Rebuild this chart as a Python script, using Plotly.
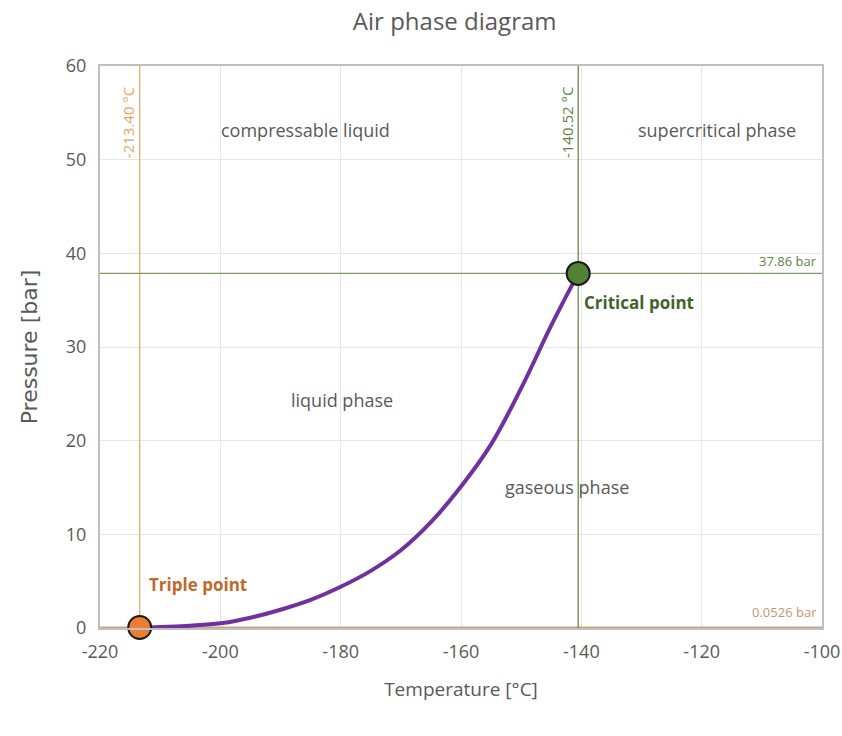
import plotly.graph_objects as go

temps = [-213.4, -210, -205, -200, -195, -190, -185, -180, -175, -170, -165, -160, -155, -150, -145, -140.52]
press = [0.0526, 0.1, 0.25, 0.5, 1.1, 1.95, 3.0, 4.4, 6.1, 8.3, 11.3, 15.1, 19.6, 25.6, 32.3, 37.86]

triple_t, triple_p = -213.4, 0.0526
crit_t, crit_p = -140.52, 37.86

x_ticks = [-220, -200, -180, -160, -140, -120, -100]
y_ticks = [0, 10, 20, 30, 40, 50, 60]

region_labels = ["compressable liquid", "supercritical phase", "liquid phase", "gaseous phase"]
region_x = [-185.9, -117.5, -179.8, -142.4]
region_y = [53.2, 53.2, 24.3, 15.05]

font_main = "Open Sans"
gray = "#595959"

fig = go.Figure()

# reference lines
fig.add_trace(go.Scatter(x=[triple_t, triple_t], y=[-3, 60], mode="lines",
                         line=dict(color="#E9A466", width=1.2), hoverinfo="skip", showlegend=False))
fig.add_trace(go.Scatter(x=[-220, -100], y=[triple_p, triple_p], mode="lines",
                         line=dict(color="#C9A57E", width=2), hoverinfo="skip", showlegend=False))
fig.add_trace(go.Scatter(x=[crit_t, crit_t], y=[-3, 60], mode="lines",
                         line=dict(color="#5A7F3F", width=1.2), hoverinfo="skip", showlegend=False))
fig.add_trace(go.Scatter(x=[-220, -100], y=[crit_p, crit_p], mode="lines",
                         line=dict(color="#7A9A60", width=1.2), hoverinfo="skip", showlegend=False))

# vapor pressure curve
fig.add_trace(go.Scatter(x=temps, y=press, mode="lines",
                         line=dict(color="#7030A0", width=4, shape="spline", smoothing=1.0),
                         showlegend=False))

# points
fig.add_trace(go.Scatter(x=[triple_t], y=[triple_p], mode="markers",
                         marker=dict(color="#ED7D31", size=23, line=dict(color="#1a1a1a", width=2)),
                         showlegend=False, cliponaxis=False))
fig.add_trace(go.Scatter(x=[crit_t], y=[crit_p], mode="markers",
                         marker=dict(color="#548235", size=23, line=dict(color="#1a1a1a", width=2)),
                         showlegend=False, cliponaxis=False))

for t, x, y in zip(region_labels, region_x, region_y):
    fig.add_annotation(x=x, y=y, text=t, showarrow=False,
                       font=dict(family=font_main, size=18, color=gray))

fig.add_annotation(x=-139.9, y=34.8, text="<b>Critical point</b>", showarrow=False, xanchor="left",
                   font=dict(family=font_main, size=17, color="#3F6427"))
fig.add_annotation(x=-212.2, y=4.6, text="<b>Triple point</b>", showarrow=False, xanchor="left",
                   font=dict(family=font_main, size=17, color="#C0692A"))

fig.add_annotation(x=-100.5, y=crit_p + 0.2, text="37.86 bar", showarrow=False, xanchor="right", yanchor="bottom",
                   font=dict(family=font_main, size=13, color="#5E8446"))
fig.add_annotation(x=-100.5, y=triple_p + 0.5, text="0.0526 bar", showarrow=False, xanchor="right", yanchor="bottom",
                   font=dict(family=font_main, size=13, color="#C9966A"))
fig.add_annotation(x=-215.35, y=54.0, text="-213.40 °C", showarrow=False, textangle=-90,
                   xanchor="center", yanchor="middle",
                   font=dict(family=font_main, size=15, color="#E9A466"))
fig.add_annotation(x=-142.4, y=54.0, text="-140.52 °C", showarrow=False, textangle=-90,
                   xanchor="center", yanchor="middle",
                   font=dict(family=font_main, size=15, color="#5E8446"))

fig.update_layout(
    width=842, height=736, autosize=False,
    paper_bgcolor="white", plot_bgcolor="white",
    margin=dict(l=100, r=20, t=66, b=108),
    title=dict(text="Air phase diagram", x=0.54, y=0.97, xanchor="center", yanchor="middle",
               font=dict(family=font_main, size=24, color=gray)),
    xaxis=dict(range=[-220, -100], tickvals=x_ticks, ticktext=[str(v) for v in x_ticks],
               automargin=False,
               showgrid=True, gridcolor="#E6E6E6", gridwidth=1, zeroline=False,
               showline=True, linecolor="#BFBFBF", linewidth=2, mirror=True,
               ticks="outside", ticklen=6, tickcolor="white",
               tickfont=dict(family=font_main, size=18, color=gray),
               title=dict(text="Temperature [°C]", font=dict(family=font_main, size=19, color=gray), standoff=21)),
    yaxis=dict(range=[0, 60], tickvals=y_ticks, ticktext=[str(v) for v in y_ticks],
               automargin=False,
               showgrid=True, gridcolor="#E6E6E6", gridwidth=1, zeroline=False,
               showline=True, linecolor="#BFBFBF", linewidth=2, mirror=True,
               ticks="outside", ticklen=8, tickcolor="white",
               tickfont=dict(family=font_main, size=18, color=gray),
               title=dict(text="Pressure [bar]", font=dict(family="DejaVu Sans", size=22, color=gray), standoff=22)),
)

fig.write_html("out.html",
               config={"responsive": False, "displayModeBar": False},
               post_script="document.body.style.margin='0';document.body.style.overflow='hidden';")
